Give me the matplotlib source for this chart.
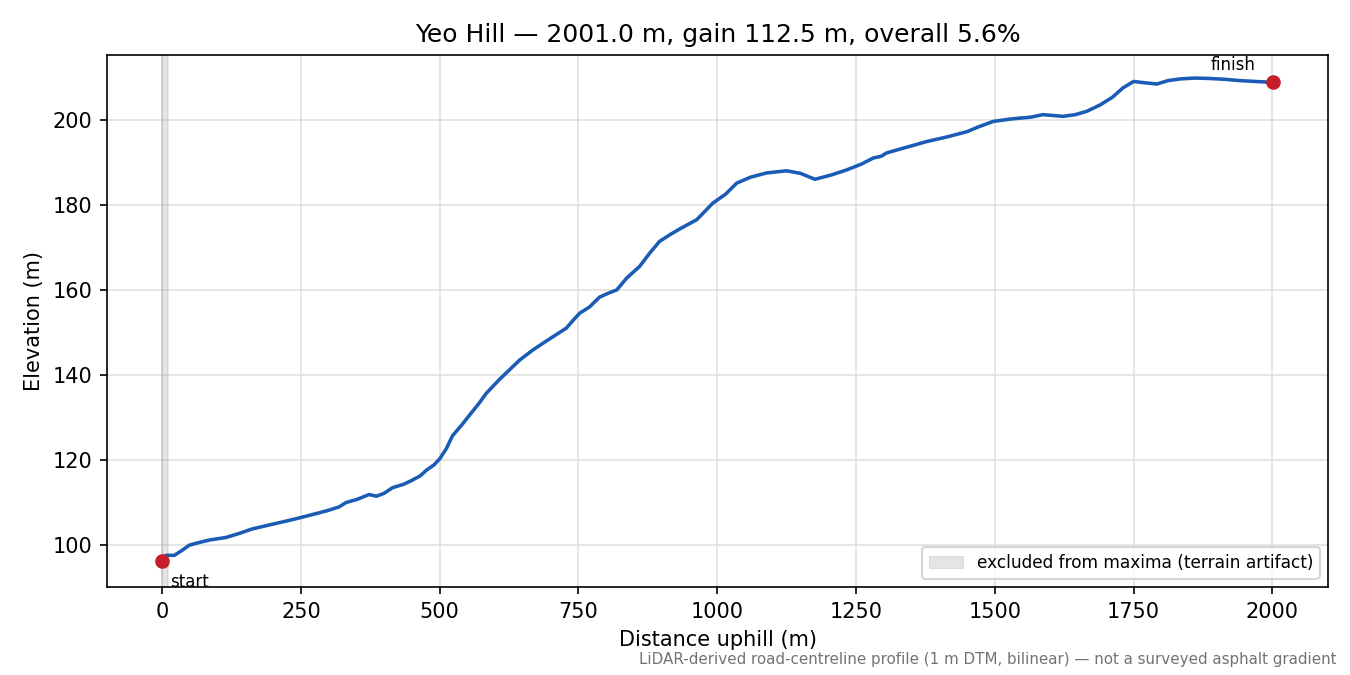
import matplotlib
matplotlib.use("Agg")
import matplotlib.pyplot as plt
from matplotlib.patches import Patch

plt.rcParams["font.family"] = ["DejaVu Sans"]

dist = [0, 7, 22, 35, 49, 66, 85, 115, 140, 162, 198, 225, 247, 283, 300, 319, 331,
        352, 373, 386, 400, 415, 435, 451, 465, 476, 490, 500, 512, 523, 540, 554,
        570, 584, 608, 632, 644, 668, 690, 704, 728, 740, 752, 770, 788, 805, 819,
        837, 860, 878, 896, 915, 932, 963, 978, 992, 1015, 1035, 1060, 1089, 1125,
        1150, 1176, 1205, 1233, 1260, 1281, 1295, 1305, 1340, 1378, 1415, 1450,
        1470, 1497, 1530, 1564, 1587, 1623, 1645, 1666, 1690, 1712, 1731, 1750,
        1770, 1792, 1812, 1834, 1860, 1888, 1915, 1942, 1970, 2001]
elev = [96.3, 97.6, 97.6, 98.7, 100.0, 100.6, 101.2, 101.8, 102.8, 103.8, 104.9,
        105.7, 106.4, 107.6, 108.2, 109.0, 110.0, 110.8, 111.9, 111.5, 112.2, 113.5,
        114.3, 115.3, 116.3, 117.6, 118.9, 120.3, 122.7, 125.7, 128.3, 130.6, 133.2,
        135.7, 139.0, 142.0, 143.5, 145.9, 147.8, 149.0, 151.0, 152.8, 154.5, 156.0,
        158.3, 159.3, 160.0, 162.8, 165.5, 168.6, 171.4, 173.0, 174.3, 176.5, 178.5,
        180.4, 182.5, 185.1, 186.5, 187.5, 188.0, 187.4, 186.0, 187.0, 188.2, 189.6,
        191.0, 191.4, 192.2, 193.5, 194.9, 196.0, 197.2, 198.3, 199.6, 200.2, 200.6,
        201.2, 200.8, 201.2, 202.0, 203.5, 205.3, 207.5, 209.0, 208.7, 208.4, 209.2,
        209.6, 209.8, 209.7, 209.5, 209.2, 209.0, 208.8]
excluded = (0, 10)
title = "Yeo Hill \u2014 2001.0 m, gain 112.5 m, overall 5.6%"
footer = "LiDAR-derived road-centreline profile (1 m DTM, bilinear) \u2014 not a surveyed asphalt gradient"

fig = plt.figure(figsize=(9, 4.5), dpi=150)
ax = fig.add_axes([0.079, 0.130, 0.905, 0.789])

ax.axvspan(excluded[0], excluded[1], facecolor="0.55", alpha=0.22, edgecolor="0.55", linewidth=0.8)
ax.plot(dist, elev, color="#1a5cb5", linewidth=1.7, zorder=3)
ax.plot([dist[0], dist[-1]], [elev[0], elev[-1]], "o", color="#c41e2a", markersize=6, zorder=4)

ax.annotate("start", (dist[0], elev[0]), xytext=(4, -6), textcoords="offset points",
            ha="left", va="top", fontsize=8)
ax.annotate("finish", (dist[-1], elev[-1]), xytext=(-19, 4), textcoords="offset points",
            ha="center", va="bottom", fontsize=8)

ax.set_xlim(-100, 2101)
ax.set_ylim(90.1, 215.3)
ax.grid(True, color="0.85", linewidth=0.8, alpha=0.8)
ax.set_axisbelow(True)
ax.set_xlabel("Distance uphill (m)")
ax.set_ylabel("Elevation (m)")
ax.set_title(title, fontsize=12)

ax.legend(handles=[Patch(facecolor="0.55", alpha=0.22, edgecolor="0.55", linewidth=0.5,
                         label="excluded from maxima (terrain artifact)")],
          loc="lower right", fontsize=8.2)

fig.text(0.99, 0.012, footer, ha="right", va="bottom", fontsize=7.25, color="0.45")

fig.savefig("out.png", dpi=150)
